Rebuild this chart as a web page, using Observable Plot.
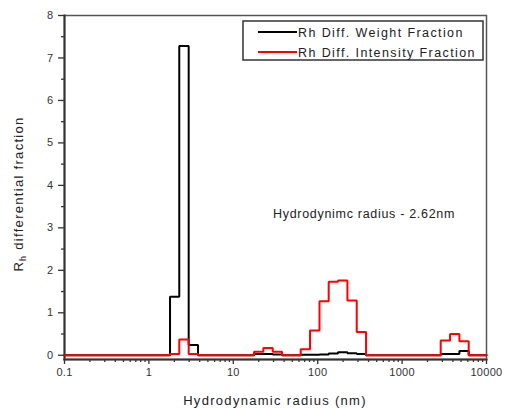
<!DOCTYPE html>
<html>
<head>
<meta charset="utf-8">
<script src="https://cdn.jsdelivr.net/npm/d3@7"></script>
<script src="https://cdn.jsdelivr.net/npm/@observablehq/plot@0.6"></script>
<style>
  body { margin: 0; background: #fff; }
  #chart svg text { font-family: "Liberation Sans", Arial, sans-serif; }
</style>
</head>
<body>
<div id="chart"></div>
<script>
// Log-spaced bin edges of the hydrodynamic radius histogram (nm)
const binEdges = [1.78, 2.29, 2.96, 3.82, 4.93, 6.35, 8.20, 10.6, 13.6, 17.6, 22.7, 29.3, 37.8,
  48.7, 62.9, 81.1, 105, 135, 174, 225, 290, 374, 482, 622, 803, 1035, 1335, 1723, 2222,
  2867, 3698, 4771, 6154];

// Differential fraction per bin
const weightFraction = [1.38, 7.28, 0.24, 0, 0, 0, 0, 0, 0, 0.03, 0.03, 0.02, 0, 0,
  0.01, 0.01, 0.02, 0.04, 0.07, 0.05, 0.03, 0, 0, 0, 0, 0, 0, 0, 0, 0.03, 0.03, 0.10];
const intensityFraction = [0.03, 0.37, 0.03, 0, 0, 0, 0, 0, 0, 0.08, 0.17, 0.08, 0, 0,
  0.14, 0.58, 1.27, 1.73, 1.76, 1.29, 0.55, 0, 0, 0, 0, 0, 0, 0, 0, 0.35, 0.50, 0.33];

const seriesNames = ["Rh Diff. Weight Fraction", "Rh Diff. Intensity Fraction"];
const seriesColors = ["#000000", "#ff0000"];

const xTicks = [0.1, 1, 10, 100, 1000, 10000];
const xTickLabels = ["0.1", "1", "10", "100", "1000", "10000"];
const yTicks = [0, 1, 2, 3, 4, 5, 6, 7, 8];
const yTickLabels = ["0", "1", "2", "3", "4", "5", "6", "7", "8"];

const xTitle = "Hydrodynamic radius (nm)";
const annotation = "Hydrodynimc radius - 2.62nm";

// Minor ticks: 2..9 within each decade, and half units on y
const xMinorTicks = xTicks.slice(0, -1).flatMap(d => [2, 3, 4, 5, 6, 7, 8, 9].map(k => k * d));
const yMinorTicks = yTicks.slice(0, -1).map(d => d + 0.5);

// Histogram outline: baseline across the full axis, a step per bin
function stepOutline(values) {
  const pts = [{x: 0.1, y: 0}];
  values.forEach((v, i) => pts.push({x: binEdges[i], y: v}));
  pts.push({x: binEdges[binEdges.length - 1], y: 0});
  pts.push({x: 10000, y: 0});
  return pts;
}

const lineStyle = {x: "x", y: "y", curve: "step-after", strokeWidth: 2, strokeLinejoin: "miter"};

const chart = Plot.plot({
  width: 506,
  height: 408,
  marginLeft: 64,
  marginRight: 20,
  marginTop: 15,
  marginBottom: 49,
  style: {background: "#fff", color: "#222", overflow: "visible"},
  x: {type: "log", domain: [0.1, 10000]},
  y: {domain: [-0.1, 8]},
  marks: [
    Plot.axisX(xTicks, {tickSize: 5, tickPadding: 4, fontSize: 11, label: null, stroke: "#333", strokeWidth: 1.3,
      fill: "#333", tickFormat: d => xTickLabels[xTicks.indexOf(d)]}),
    Plot.axisX(xMinorTicks, {tickSize: 3, text: null, label: null, stroke: "#333", strokeWidth: 1.3}),
    Plot.axisY(yTicks, {tickSize: 6, tickPadding: 5, fontSize: 11, label: null, stroke: "#333", strokeWidth: 1.3,
      fill: "#333", tickFormat: d => yTickLabels[yTicks.indexOf(d)]}),
    Plot.axisY(yMinorTicks, {tickSize: 3, text: null, label: null, stroke: "#333", strokeWidth: 1.3}),
    Plot.frame({stroke: "#555", strokeWidth: 1.5}),
    Plot.frame({anchor: "left", stroke: "#333", strokeWidth: 2}),
    Plot.frame({anchor: "bottom", stroke: "#333", strokeWidth: 2}),
    Plot.line(stepOutline(weightFraction), {...lineStyle, stroke: seriesColors[0]}),
    Plot.line(stepOutline(intensityFraction), {...lineStyle, stroke: seriesColors[1]}),
    Plot.text([{x: 29.5, y: 3.33}], {x: "x", y: "y", text: () => annotation, textAnchor: "start",
      fontSize: 12.5, fill: "#222"})
  ]
});

document.getElementById("chart").appendChild(chart);

const svg = d3.select(chart);
svg.selectAll("text").filter(function () { return this.textContent === annotation; })
  .style("letter-spacing", "0.7px");
svg.selectAll("g[aria-label='x-axis tick label'] text, g[aria-label='y-axis tick label'] text")
  .style("letter-spacing", "0.3px");

// Axis titles
svg.append("text")
  .attr("x", 275).attr("y", 404.5)
  .attr("text-anchor", "middle")
  .attr("font-size", 13).attr("fill", "#222")
  .style("letter-spacing", "1.3px")
  .text(xTitle);

const yTitle = svg.append("text")
  .attr("transform", "translate(23,194) rotate(-90)")
  .attr("text-anchor", "middle")
  .attr("font-size", 13).attr("fill", "#222")
  .style("letter-spacing", "1.3px");
yTitle.append("tspan").text("R");
yTitle.append("tspan").attr("font-size", 9).attr("dy", 3).text("h");
yTitle.append("tspan").attr("dy", -3).text(" differential fraction");

// Legend
const legend = svg.append("g");
legend.append("rect")
  .attr("x", 243).attr("y", 21).attr("width", 240).attr("height", 39)
  .attr("fill", "#fff").attr("stroke", "#333").attr("stroke-width", 1.5);
seriesNames.forEach((name, i) => {
  const cy = 32 + i * 20;
  legend.append("line")
    .attr("x1", 258).attr("x2", 297).attr("y1", cy).attr("y2", cy)
    .attr("stroke", seriesColors[i]).attr("stroke-width", 2);
  legend.append("text")
    .attr("x", 298).attr("y", cy + 4.5)
    .attr("text-anchor", "start")
    .attr("font-size", 12.5).attr("fill", "#222")
    .style("letter-spacing", "1.4px")
    .text(name);
});
</script>
</body>
</html>
